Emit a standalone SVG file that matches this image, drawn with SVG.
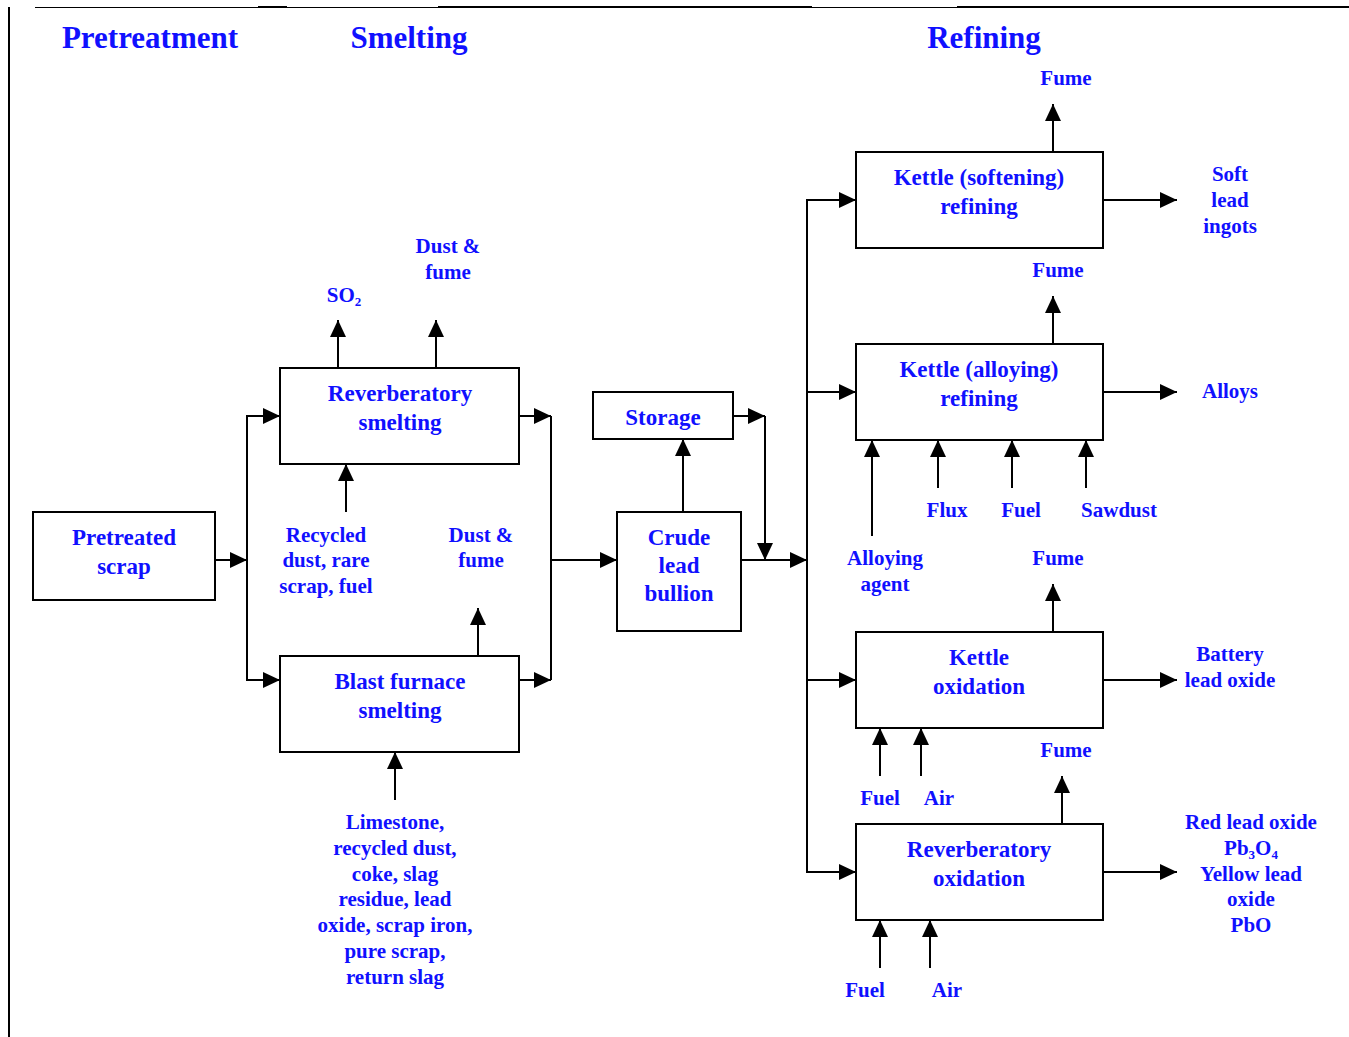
<svg xmlns="http://www.w3.org/2000/svg" width="1349" height="1037" viewBox="0 0 1349 1037">
  <defs>
    <marker id="arrow" markerUnits="userSpaceOnUse" markerWidth="17" markerHeight="16" refX="17" refY="8" orient="auto">
      <path d="M0,0 L17,8 L0,16 Z" fill="#000"/>
    </marker>
    <style>
      .box { fill: #fff; stroke: #000; stroke-width: 2; }
      .line { fill: none; stroke: #000; stroke-width: 2; }
      .arr { fill: none; stroke: #000; stroke-width: 2; marker-end: url(#arrow); }
      text { font-family: "Liberation Serif", "DejaVu Serif", serif; font-weight: bold; fill: #1010ff; text-anchor: middle; }
      .main { font-size: 23px; }
      .small { font-size: 21px; }
      .head { font-size: 31px; }
      .sub { font-size: 13px; }
    </style>
  </defs>
  <rect width="1349" height="1037" fill="#fff"/>

  <!-- page frame -->
  <g id="frame" stroke="#000" fill="none">
    <line x1="9" y1="7" x2="9" y2="1037" stroke-width="2"/>
    <line x1="35" y1="7.5" x2="258" y2="7.5" stroke-width="1"/>
    <line x1="258" y1="7" x2="287" y2="7" stroke-width="2"/>
    <line x1="287" y1="7.5" x2="438" y2="7.5" stroke-width="1"/>
    <line x1="438" y1="7" x2="812" y2="7" stroke-width="2"/>
    <line x1="812" y1="7.5" x2="957" y2="7.5" stroke-width="1"/>
    <line x1="957" y1="7" x2="1349" y2="7" stroke-width="2"/>
  </g>

  <!-- stage headings -->
  <g id="headings">
    <text class="head" x="150" y="48">Pretreatment</text>
    <text class="head" x="409" y="48">Smelting</text>
    <text class="head" x="984" y="48">Refining</text>
  </g>

  <!-- connectors -->
  <g id="connectors">
    <!-- pretreatment to smelting -->
    <line class="arr" x1="215" y1="560" x2="247" y2="560"/>
    <line class="line" x1="247" y1="415" x2="247" y2="681"/>
    <line class="arr" x1="247" y1="416" x2="280" y2="416"/>
    <line class="arr" x1="247" y1="680" x2="280" y2="680"/>
    <!-- smelting outputs -->
    <line class="arr" x1="519" y1="416" x2="551" y2="416"/>
    <line class="arr" x1="519" y1="680" x2="551" y2="680"/>
    <line class="line" x1="551" y1="416" x2="551" y2="680"/>
    <line class="arr" x1="551" y1="560" x2="617" y2="560"/>
    <line class="arr" x1="338" y1="368" x2="338" y2="320"/>
    <line class="arr" x1="436" y1="368" x2="436" y2="320"/>
    <line class="arr" x1="346" y1="512" x2="346" y2="464"/>
    <line class="arr" x1="478" y1="656" x2="478" y2="608"/>
    <line class="arr" x1="395" y1="800" x2="395" y2="752"/>
    <!-- bullion and storage -->
    <line class="arr" x1="683" y1="512" x2="683" y2="439"/>
    <line class="arr" x1="733" y1="416" x2="765" y2="416"/>
    <line class="arr" x1="765" y1="416" x2="765" y2="560"/>
    <line class="arr" x1="741" y1="560" x2="807" y2="560"/>
    <!-- refining distribution -->
    <line class="line" x1="807" y1="199" x2="807" y2="873"/>
    <line class="arr" x1="807" y1="200" x2="856" y2="200"/>
    <line class="arr" x1="807" y1="392" x2="856" y2="392"/>
    <line class="arr" x1="807" y1="680" x2="856" y2="680"/>
    <line class="arr" x1="807" y1="872" x2="856" y2="872"/>
    <!-- refining products -->
    <line class="arr" x1="1103" y1="200" x2="1177" y2="200"/>
    <line class="arr" x1="1103" y1="392" x2="1177" y2="392"/>
    <line class="arr" x1="1103" y1="680" x2="1177" y2="680"/>
    <line class="arr" x1="1103" y1="872" x2="1177" y2="872"/>
    <!-- fumes -->
    <line class="arr" x1="1053" y1="152" x2="1053" y2="104"/>
    <line class="arr" x1="1053" y1="344" x2="1053" y2="296"/>
    <line class="arr" x1="1053" y1="632" x2="1053" y2="584"/>
    <line class="arr" x1="1062" y1="824" x2="1062" y2="776"/>
    <!-- refining inputs -->
    <line class="arr" x1="872" y1="536" x2="872" y2="440"/>
    <line class="arr" x1="938" y1="488" x2="938" y2="440"/>
    <line class="arr" x1="1012" y1="488" x2="1012" y2="440"/>
    <line class="arr" x1="1086" y1="488" x2="1086" y2="440"/>
    <line class="arr" x1="880" y1="776" x2="880" y2="728"/>
    <line class="arr" x1="921" y1="776" x2="921" y2="728"/>
    <line class="arr" x1="880" y1="968" x2="880" y2="920"/>
    <line class="arr" x1="930" y1="968" x2="930" y2="920"/>
  </g>

  <!-- process nodes -->
  <g id="pretreated-scrap">
    <rect class="box" x="33" y="512" width="182" height="88"/>
    <text class="main" x="124" y="545">Pretreated</text>
    <text class="main" x="124" y="574">scrap</text>
  </g>
  <g id="reverberatory-smelting">
    <rect class="box" x="280" y="368" width="239" height="96"/>
    <text class="main" x="400" y="401">Reverberatory</text>
    <text class="main" x="400" y="430">smelting</text>
  </g>
  <g id="blast-furnace-smelting">
    <rect class="box" x="280" y="656" width="239" height="96"/>
    <text class="main" x="400" y="689">Blast furnace</text>
    <text class="main" x="400" y="718">smelting</text>
  </g>
  <g id="storage">
    <rect class="box" x="593" y="392" width="140" height="47"/>
    <text class="main" x="663" y="425">Storage</text>
  </g>
  <g id="crude-lead-bullion">
    <rect class="box" x="617" y="512" width="124" height="119"/>
    <text class="main" x="679" y="545">Crude</text>
    <text class="main" x="679" y="573">lead</text>
    <text class="main" x="679" y="601">bullion</text>
  </g>
  <g id="kettle-softening">
    <rect class="box" x="856" y="152" width="247" height="96"/>
    <text class="main" x="979" y="185">Kettle (softening)</text>
    <text class="main" x="979" y="214">refining</text>
  </g>
  <g id="kettle-alloying">
    <rect class="box" x="856" y="344" width="247" height="96"/>
    <text class="main" x="979" y="377">Kettle (alloying)</text>
    <text class="main" x="979" y="406">refining</text>
  </g>
  <g id="kettle-oxidation">
    <rect class="box" x="856" y="632" width="247" height="96"/>
    <text class="main" x="979" y="665">Kettle</text>
    <text class="main" x="979" y="694">oxidation</text>
  </g>
  <g id="reverberatory-oxidation">
    <rect class="box" x="856" y="824" width="247" height="96"/>
    <text class="main" x="979" y="857">Reverberatory</text>
    <text class="main" x="979" y="886">oxidation</text>
  </g>

  <!-- stream labels -->
  <g id="labels">
    <text class="small" x="344" y="302">SO<tspan class="sub" dy="4">2</tspan></text>
    <text class="small" x="448" y="253">Dust &amp;</text>
    <text class="small" x="448" y="279">fume</text>
    <text class="small" x="326" y="542">Recycled</text>
    <text class="small" x="326" y="567">dust, rare</text>
    <text class="small" x="326" y="593">scrap, fuel</text>
    <text class="small" x="481" y="542">Dust &amp;</text>
    <text class="small" x="481" y="567">fume</text>
    <text class="small" x="395" y="829">Limestone,</text>
    <text class="small" x="395" y="855">recycled dust,</text>
    <text class="small" x="395" y="881">coke, slag</text>
    <text class="small" x="395" y="906">residue, lead</text>
    <text class="small" x="395" y="932">oxide, scrap iron,</text>
    <text class="small" x="395" y="958">pure scrap,</text>
    <text class="small" x="395" y="984">return slag</text>

    <text class="small" x="1066" y="85">Fume</text>
    <text class="small" x="1230" y="181">Soft</text>
    <text class="small" x="1230" y="207">lead</text>
    <text class="small" x="1230" y="233">ingots</text>
    <text class="small" x="1058" y="277">Fume</text>
    <text class="small" x="1230" y="398">Alloys</text>
    <text class="small" x="947" y="517">Flux</text>
    <text class="small" x="1021" y="517">Fuel</text>
    <text class="small" x="1119" y="517">Sawdust</text>
    <text class="small" x="885" y="565">Alloying</text>
    <text class="small" x="885" y="591">agent</text>
    <text class="small" x="1058" y="565">Fume</text>
    <text class="small" x="1230" y="661">Battery</text>
    <text class="small" x="1230" y="687">lead oxide</text>
    <text class="small" x="880" y="805">Fuel</text>
    <text class="small" x="939" y="805">Air</text>
    <text class="small" x="1066" y="757">Fume</text>
    <text class="small" x="1251" y="829">Red lead oxide</text>
    <text class="small" x="1251" y="855">Pb<tspan class="sub" dy="4">3</tspan><tspan dy="-4">O</tspan><tspan class="sub" dy="4">4</tspan></text>
    <text class="small" x="1251" y="881">Yellow lead</text>
    <text class="small" x="1251" y="906">oxide</text>
    <text class="small" x="1251" y="932">PbO</text>
    <text class="small" x="865" y="997">Fuel</text>
    <text class="small" x="947" y="997">Air</text>
  </g>
</svg>
